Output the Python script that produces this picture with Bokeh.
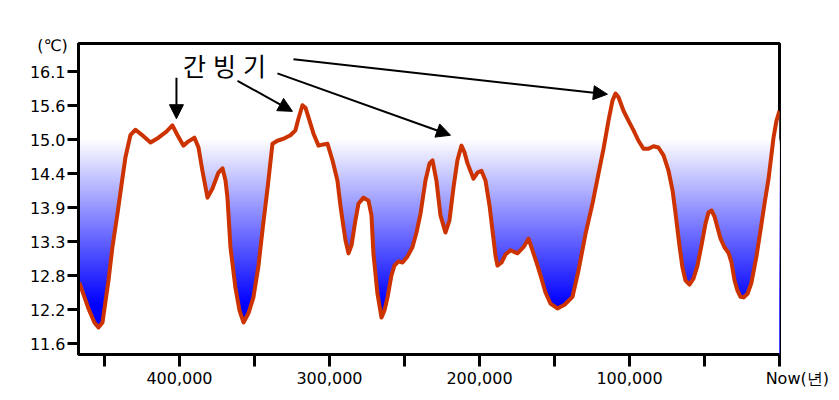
import numpy as np
from bokeh.plotting import figure
from bokeh.models import Range1d, FixedTicker, Arrow, NormalHead, Label, ColumnDataSource
from bokeh.embed import file_html
from bokeh.resources import INLINE

# ---- data (thousands of years before present, global mean temperature in degC) ----
kyr = [466.7, 460.7, 456.7, 454.0, 451.3, 447.3, 444.7, 441.3, 438.7, 436.0,
       432.7, 429.3, 425.3, 419.3, 414.0, 408.7, 404.7, 401.3, 397.3, 394.0,
       390.0, 387.3, 384.7, 381.3, 378.0, 374.0, 371.3, 369.3, 368.0, 366.0,
       362.7, 360.0, 357.3, 354.0, 350.7, 347.3, 344.7, 341.3, 338.0, 334.7,
       330.0, 326.0, 322.7, 320.7, 318.0, 316.0, 313.3, 310.7, 307.3, 304.0,
       301.3, 298.0, 294.7, 292.7, 291.3, 289.3, 287.3, 285.3, 282.7, 280.7,
       277.3, 274.0, 272.0, 270.7, 268.0, 265.3, 263.3, 261.3, 258.7, 256.7,
       254.0, 251.3, 248.0, 244.7, 242.0, 239.3, 236.0, 233.3, 231.3, 228.7,
       226.0, 222.7, 220.0, 217.3, 214.7, 212.0, 210.0, 208.0, 204.0, 201.3,
       198.7, 196.0, 193.3, 191.3, 189.3, 188.0, 185.3, 182.7, 179.3, 174.7,
       170.7, 167.3, 164.0, 161.3, 159.3, 156.0, 152.7, 148.0, 143.3, 138.0,
       134.0, 129.3, 124.7, 120.7, 117.3, 114.0, 111.3, 109.3, 107.3, 104.0,
       100.7, 97.3, 94.0, 90.7, 87.3, 84.0, 80.7, 77.3, 74.0, 71.3,
       69.3, 66.7, 64.7, 62.7, 60.0, 57.3, 54.7, 52.0, 49.3, 47.3,
       45.3, 43.3, 41.3, 39.3, 36.7, 34.0, 32.0, 30.0, 28.0, 26.0,
       24.0, 21.3, 18.7, 15.3, 12.7, 10.0, 7.3, 4.0, 2.0, 0.0]
temp_c = [12.66, 12.24, 12.01, 11.93, 12.01, 12.70, 13.24, 13.79, 14.25, 14.71,
          15.07, 15.16, 15.08, 14.95, 15.03, 15.13, 15.23, 15.07, 14.90, 14.97,
          15.03, 14.87, 14.49, 14.05, 14.20, 14.46, 14.53, 14.33, 14.05, 13.24,
          12.58, 12.21, 12.01, 12.16, 12.42, 12.94, 13.51, 14.20, 14.93, 14.98,
          15.02, 15.07, 15.15, 15.34, 15.56, 15.52, 15.31, 15.10, 14.90, 14.92,
          14.93, 14.66, 14.33, 13.92, 13.68, 13.35, 13.14, 13.27, 13.68, 13.95,
          14.05, 14.00, 13.76, 13.14, 12.48, 12.09, 12.21, 12.42, 12.78, 12.94,
          13.01, 12.99, 13.09, 13.24, 13.48, 13.79, 14.33, 14.61, 14.66, 14.33,
          13.76, 13.48, 13.68, 14.22, 14.66, 14.90, 14.79, 14.61, 14.36, 14.46,
          14.49, 14.33, 13.92, 13.51, 13.10, 12.94, 12.99, 13.12, 13.19, 13.14,
          13.24, 13.38, 13.14, 12.94, 12.78, 12.50, 12.32, 12.24, 12.30, 12.43,
          12.86, 13.46, 13.95, 14.44, 14.85, 15.31, 15.64, 15.75, 15.69, 15.47,
          15.31, 15.15, 14.98, 14.85, 14.85, 14.89, 14.87, 14.74, 14.49, 14.17,
          13.79, 13.27, 12.91, 12.70, 12.63, 12.73, 12.94, 13.27, 13.63, 13.81,
          13.84, 13.74, 13.56, 13.38, 13.24, 13.15, 12.99, 12.70, 12.53, 12.43,
          12.42, 12.48, 12.66, 13.10, 13.51, 13.95, 14.36, 15.03, 15.31, 15.47]

x_ticks = [450, 400, 350, 300, 250, 200, 150, 100, 50, 0]
x_tick_labels = ["", "400,000", "", "300,000", "", "200,000", "", "100,000", "",
                 "\u00a0" * 7 + "Now(년)"]
y_ticks = [11.6667, 12.2222, 12.7778, 13.3333, 13.8889, 14.4444, 15.0, 15.5556, 16.1111]
y_tick_labels = ["11.6", "12.2", "12.8", "13.3", "13.9", "14.4", "15.0", "15.6", "16.1"]
unit_label = "(℃)"
baseline_c = 15.0
annotation_chars = ["간", "빙", "기"]
annotation_x = [390.0, 370.0, 350.0]
annotation_y = 16.225
# arrows: (x_start, y_start, x_end, y_end) in (kyr, degC)
arrows = [(402.0, 16.01, 402.0, 15.34),
          (361.3, 15.96, 324.7, 15.46),
          (334.7, 16.08, 219.3, 15.07),
          (324.0, 16.31, 114.7, 15.74)]

X_LO, X_HI = 467.3, 0.0
Y_LO, Y_HI = 11.487, 16.569

p = figure(width=835, height=396, output_backend="svg", toolbar_location=None,
           x_range=Range1d(X_LO, X_HI), y_range=Range1d(Y_LO, Y_HI),
           min_border_left=78, min_border_right=56, min_border_top=43, min_border_bottom=42)
p.background_fill_color = "white"
p.border_fill_color = "white"
p.grid.visible = False
p.outline_line_color = "black"
p.outline_line_width = 3

# gradient: nested bands, lightest (tallest) first so no seams appear
step = 0.03
tops = np.arange(baseline_c, Y_LO - 0.1, -step)
t = np.clip((baseline_c - (tops - step / 2)) / 2.7, 0, 1)
cols = ["#%02x%02xff" % (int(255 * (1 - a)), int(255 * (1 - a))) for a in t]
p.quad(left=X_LO + 5, right=X_HI - 5, bottom=Y_LO - 1, top=tops, fill_color=cols, line_color=None)

# white mask under the curve
src = ColumnDataSource(dict(x=kyr, y=temp_c))
p.varea(x="x", y1=Y_LO - 1, y2="y", source=src, fill_color="white")
p.line(x="x", y="y", source=src, line_color="#cc3300", line_width=4, line_join="round")

for (x0, y0, x1, y1) in arrows:
    p.add_layout(Arrow(x_start=x0, y_start=y0, x_end=x1, y_end=y1,
                       line_color="black", line_width=2,
                       end=NormalHead(size=14, fill_color="black", line_color="black", line_width=1)))

for ch, xx in zip(annotation_chars, annotation_x):
    p.add_layout(Label(x=xx, y=annotation_y, text=ch, text_align="center",
                       text_baseline="middle", text_font="Noto Sans CJK KR",
                       text_font_size="25px", text_color="black"))

# axes
p.xaxis.ticker = FixedTicker(ticks=x_ticks)
p.xaxis.major_label_overrides = {k: v for k, v in zip(x_ticks, x_tick_labels)}
p.yaxis.ticker = FixedTicker(ticks=y_ticks)
p.yaxis.major_label_overrides = {k: v for k, v in zip(y_ticks, y_tick_labels)}
for ax in (p.xaxis, p.yaxis):
    ax.axis_line_width = 3
    ax.axis_line_color = "black"
    ax.major_tick_line_width = 3
    ax.major_tick_line_color = "black"
    ax.major_tick_in = 0
    ax.minor_tick_line_color = None
    ax.major_label_text_font = "DejaVu Sans"
    ax.major_label_text_font_size = "16px"
    ax.major_label_text_color = "black"
    ax.major_label_standoff = 2
p.xaxis.major_tick_out = 12
p.yaxis.major_tick_out = 11

# unit label sits in the top border panel (side-panel annotations are not clipped to the frame)
p.add_layout(Label(x=52, y=45, x_units="canvas", y_units="canvas", text=unit_label,
                   text_align="center", text_baseline="middle",
                   text_font="DejaVu Sans", text_font_size="16px", text_color="black"), "above")

open("out.html", "w").write(file_html(p, INLINE))
